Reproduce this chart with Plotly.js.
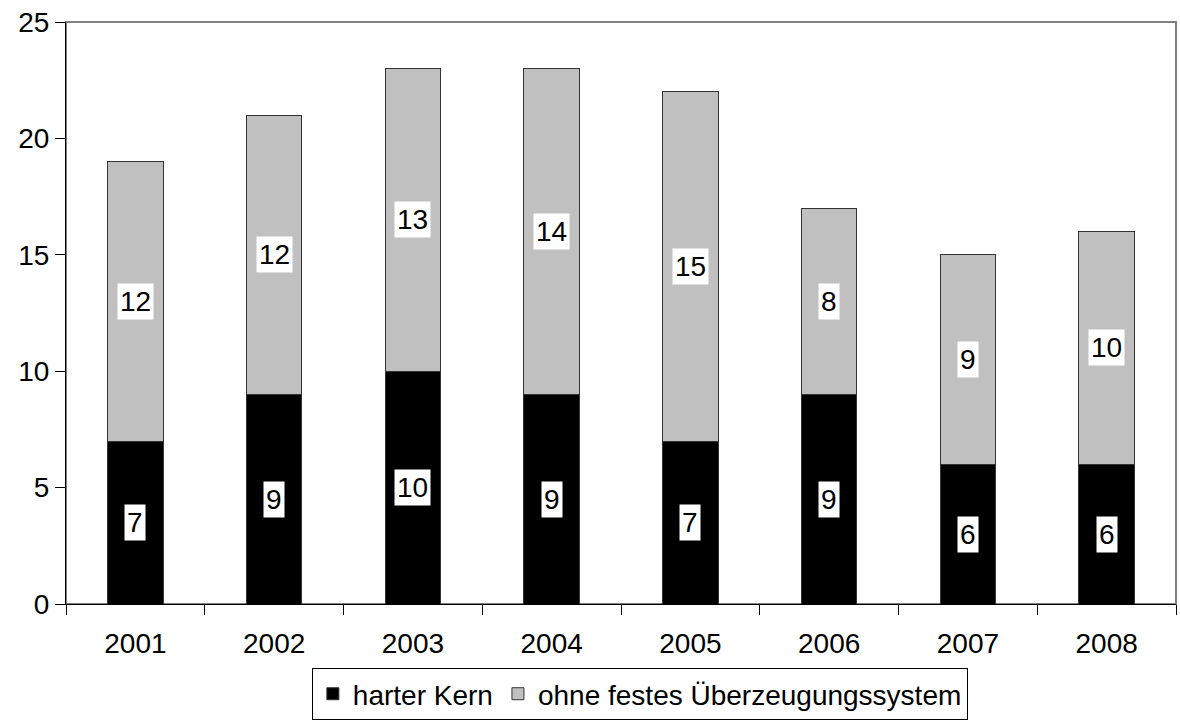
<!DOCTYPE html>
<html><head><meta charset="utf-8">
<script src="https://cdn.plot.ly/plotly-3.0.1.min.js"></script>
<style>body{margin:0;background:#fff}#c{width:1180px;height:726px}</style>
</head><body><div id="c"></div>
<script>
const years = ['2001','2002','2003','2004','2005','2006','2007','2008'];
const harterKern = [7,9,10,9,7,9,6,6];
const ohneFestes = [12,12,13,14,15,8,9,10];
const seriesNames = ['harter Kern','ohne festes Überzeugungssystem'];

const FONT = 'Liberation Sans, Arial, sans-serif';
const FS = 28;
const traces = [
  {type:'bar', name:seriesNames[0], x:years, y:harterKern,
   marker:{color:'#000000', line:{color:'#333333', width:1}}, width:0.4},
  {type:'bar', name:seriesNames[1], x:years, y:ohneFestes,
   marker:{color:'#c0c0c0', line:{color:'#333333', width:1}}, width:0.4}
];
const annotations = [];
years.forEach((yr,i)=>{
  annotations.push({x:i, y:harterKern[i]/2, text:String(harterKern[i]), showarrow:false,
    bgcolor:'#ffffff', borderpad:2, font:{family:FONT,size:FS,color:'#000'}});
  annotations.push({x:i, y:harterKern[i]+ohneFestes[i]/2, text:String(ohneFestes[i]), showarrow:false,
    bgcolor:'#ffffff', borderpad:2, font:{family:FONT,size:FS,color:'#000'}});
});
const layout = {
  width:1180, height:726,
  margin:{l:66, r:4, t:22, b:122, autoexpand:false},
  paper_bgcolor:'#ffffff', plot_bgcolor:'#ffffff',
  barmode:'stack', bargap:0.6,
  font:{family:FONT, size:FS, color:'#000'},
  showlegend:true,
  legend:{orientation:'h', x:0.517, xanchor:'center', y:-0.11, yanchor:'top',
    bordercolor:'#000', borderwidth:1, bgcolor:'#fff', font:{family:FONT,size:FS,color:'#000'},
    itemwidth:30, traceorder:'normal'},
  xaxis:{type:'category', range:[-0.5,7.5], showgrid:false, showline:true, linecolor:'#000', linewidth:1,
    ticks:'outside', ticklen:10, tickcolor:'#000', tickson:'boundaries', tickangle:0,
    ticklabelstandoff:14,
    tickfont:{family:FONT,size:FS}, fixedrange:true},
  yaxis:{range:[0,25], dtick:5, showgrid:false, showline:true, linecolor:'#000', linewidth:1,
    ticks:'outside', ticklen:10, tickcolor:'#000', zeroline:false,
    tickfont:{family:FONT,size:FS}, fixedrange:true},
  shapes:[{type:'rect', xref:'paper', yref:'paper', x0:0, x1:1, y0:0, y1:1,
    line:{color:'#808080', width:2}, layer:'below'}],
  annotations:annotations
};
Plotly.newPlot('c', traces, layout, {displayModeBar:false, staticPlot:true});
</script></body></html>
